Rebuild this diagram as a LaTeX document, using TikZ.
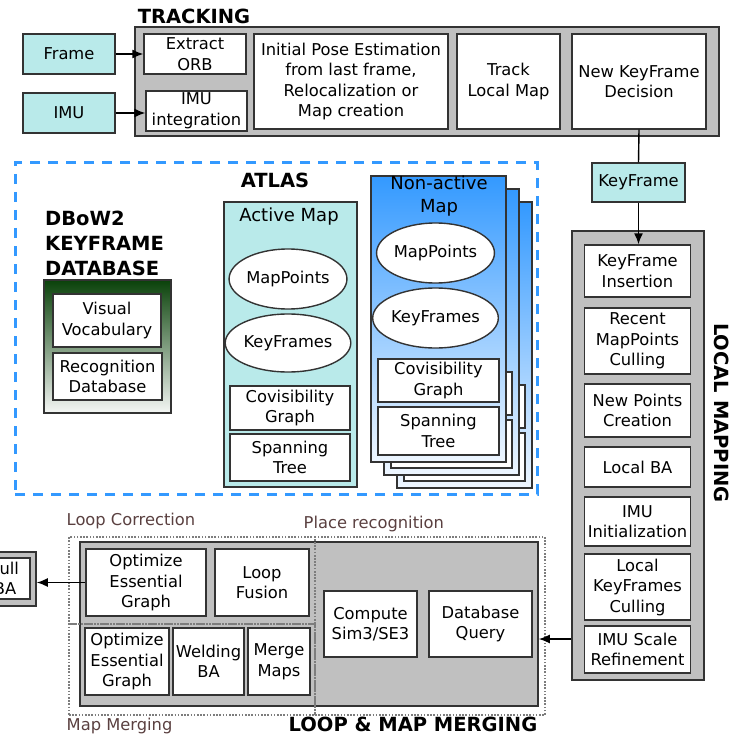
\documentclass[tikz,border=0pt]{standalone}
\usepackage{fontspec}
\setmainfont{DejaVu Sans}
\usetikzlibrary{arrows.meta,shapes.geometric}
\definecolor{bgray}{RGB}{192,192,192}
\definecolor{teal1}{RGB}{185,234,234}
\definecolor{edge}{RGB}{51,51,51}
\definecolor{atlasblue}{RGB}{51,153,255}
\definecolor{dgreen}{RGB}{10,66,10}
\definecolor{lgreen}{RGB}{245,247,245}
\definecolor{lblue}{RGB}{238,246,255}
\definecolor{brownlbl}{RGB}{90,64,64}
\definecolor{dotgray}{RGB}{125,125,125}
\begin{document}
\begin{tikzpicture}[x=1pt,y=-1pt,
  every node/.style={font=\fontsize{16.3}{20.5}\selectfont, align=center, inner sep=1pt},
  sz/.style 2 args={minimum width=#1pt, minimum height=#2pt},
  wbox/.style={draw=edge, line width=1.4pt, fill=white, rectangle},
  tbox/.style={draw=edge, line width=1.4pt, fill=teal1, rectangle},
  gbox/.style={draw=edge, line width=1.6pt, fill=bgray, rectangle},
  nabox/.style={draw=edge, line width=1.4pt, rectangle, top color=atlasblue, bottom color=lblue},
  ell/.style={ellipse, draw=edge, line width=1.4pt, fill=white, inner sep=0pt},
  ttl/.style={font=\fontsize{19.5}{25}\selectfont\bfseries},
  maptitle/.style={font=\fontsize{18}{23}\selectfont},
  sublbl/.style={text=brownlbl, anchor=west},
  myarr/.style={draw=black, line width=1.4pt, -{Latex[length=11pt,width=9pt]}},
  myline/.style={draw=black, line width=1.4pt},
  dotrect/.style={draw=dotgray, line width=2.4pt, dash pattern=on 1.6pt off 1.6pt, rectangle},
]
\useasboundingbox (0,0) rectangle (732,735);

% ---------------- TRACKING
\node[gbox, sz={584}{109}] (trk) at (427,81.5) {};
\node[ttl] (trktitle) at (194,16) {TRACKING};
\node[tbox, sz={92}{40}] (frame) at (69,54) {Frame};
\node[tbox, sz={92}{40}] (imu) at (69,113) {IMU};
\node[wbox, sz={102}{40}] (orb) at (195,54) {Extract\\ORB};
\node[wbox, sz={101}{40}] (imuint) at (196.5,111) {IMU\\integration};
\node[wbox, sz={194}{95}] (ipe) at (351,81.5) {Initial Pose Estimation\\from last frame,\\Relocalization or\\Map creation};
\node[wbox, sz={103}{95}] (tlm) at (508.5,81.5) {Track\\Local Map};
\node[wbox, sz={134}{95}] (nkd) at (639,81.5) {New KeyFrame\\Decision};
\draw[myarr] (frame.east) -- (orb.west);
\draw[myarr] (imu.east) -- (imu.east -| imuint.west);

% ---------------- KeyFrame
\node[tbox, sz={93}{39}] (kf) at (638.5,182.5) {KeyFrame};

% ---------------- ATLAS
\node[draw=atlasblue, line width=3pt, dash pattern=on 10pt off 8pt, rectangle, sz={522}{331}] (atlas) at (276,328.5) {};
\node[ttl] (atlastitle) at (275,180) {ATLAS};

% DBoW2
\node[ttl, align=left, anchor=west] (dbowtitle) at (44,243) {DBoW2\\KEYFRAME\\DATABASE};
\node[draw=edge, line width=1.4pt, rectangle, top color=dgreen, bottom color=lgreen, sz={127}{133}] (dbow) at (107.5,346.5) {};
\node[wbox, sz={108}{53}] (vv) at (107,320.5) {Visual\\Vocabulary};
\node[wbox, sz={109}{47}] (rdb) at (107.5,376.5) {Recognition\\Database};

% Active map
\node[tbox, sz={133}{285}] (am) at (290.5,344.5) {};
\node[maptitle] (amtitle) at (289,217) {Active Map};
\node[ell, sz={112}{60}] (amp) at (288,279) {MapPoints};
\node[ell, sz={112}{58}] (akf) at (288,343) {KeyFrames};
\node[wbox, sz={120}{44}] (acg) at (290,408) {Covisibility\\Graph};
\node[wbox, sz={120}{47}] (ast) at (290,457.5) {Spanning\\Tree};

% Non-active maps (stack)
\foreach \o/\n in {26/c,13/b}{
  \node[nabox, sz={135}{286}] (na\n) at (438.5+\o,319+\o) {};
  \node[wbox, sz={121}{43}] (nacg\n) at (438.5+\o,380.5+\o) {};
  \node[wbox, sz={121}{48}] (nast\n) at (438.5+\o,431+\o) {};
}
\node[nabox, sz={135}{286}] (na) at (438.5,319) {};
\node[maptitle] (natitle) at (439,196.5) {Non-active\\Map};
\node[ell, sz={115}{60}] (nmp) at (435.5,253) {MapPoints};
\node[ell, sz={115}{60}] (nkf) at (435.5,318) {KeyFrames};
\node[wbox, sz={121}{43}] (ncg) at (438.5,380.5) {Covisibility\\Graph};
\node[wbox, sz={121}{48}] (nst) at (438.5,431) {Spanning\\Tree};

% ---------------- LOCAL MAPPING
\node[gbox, sz={132}{449}] (lm) at (638,455.5) {};
\node[ttl, rotate=-90] (lmtitle) at (722,413) {LOCAL MAPPING};
\node[wbox, sz={106}{52}] (kfi) at (637.5,271) {KeyFrame\\Insertion};
\node[wbox, sz={106}{66}] (rmc) at (637.5,341) {Recent\\MapPoints\\Culling};
\node[wbox, sz={106}{53}] (npc) at (637.5,410.5) {New Points\\Creation};
\node[wbox, sz={106}{40}] (lba) at (637.5,467) {Local BA};
\node[wbox, sz={106}{49}] (imui) at (637.5,521.5) {IMU\\Initialization};
\node[wbox, sz={106}{66}] (lkc) at (637.5,587) {Local\\KeyFrames\\Culling};
\node[wbox, sz={106}{47}] (imusr) at (637.5,649.5) {IMU Scale\\Refinement};

\draw[myline] (nkd.south) -- (kf.north);
\draw[myarr] (kf.south) -- (kf.south |- kfi.north);

% ---------------- LOOP & MAP MERGING
\node[gbox, sz={458}{164}] (loop) at (309,624) {};
\node[wbox, sz={120}{67}] (oeg1) at (146,582.5) {Optimize\\Essential\\Graph};
\node[wbox, sz={94}{67}] (lf) at (262,582.5) {Loop\\Fusion};
\node[wbox, sz={84}{67}] (oeg2) at (127,661.5) {Optimize\\Essential\\Graph};
\node[wbox, sz={71}{67}] (wba) at (208.5,661.5) {Welding\\BA};
\node[wbox, sz={62}{67}] (mm) at (279,661.5) {Merge\\Maps};
\node[wbox, sz={93}{66}] (sim) at (370.5,624) {Compute\\Sim3/SE3};
\node[wbox, sz={103}{66}] (dbq) at (480.5,624) {Database\\Query};

\node[dotrect, sz={246}{87}] (lcreg) at (192,580.5) {};
\node[dotrect, sz={246}{91}] (mmreg) at (192,669.5) {};
\node[dotrect, sz={230}{178}] (prreg) at (430,626) {};

\node[sublbl] (lclbl) at (65.5,521) {Loop Correction};
\node[sublbl] (prlbl) at (302.5,524) {Place recognition};
\node[sublbl] (mmlbl) at (65.5,726) {Map Merging};
\node[ttl] (loopttl) at (413,724) {LOOP \& MAP MERGING};

% Full BA (cut by the left edge, as in the reference)
\node[gbox, sz={66}{54}] (fbaout) at (3,579) {};
\node[wbox, sz={50}{41}] (fba) at (5,578.5) {Full\\BA};

\draw[myarr] (oeg1.west) -- (oeg1.west -| fbaout.east);
\coordinate (lmout) at (lm.west |- 0,639);
\draw[myarr] (lmout) -- (lmout -| loop.east);
\end{tikzpicture}
\end{document}
